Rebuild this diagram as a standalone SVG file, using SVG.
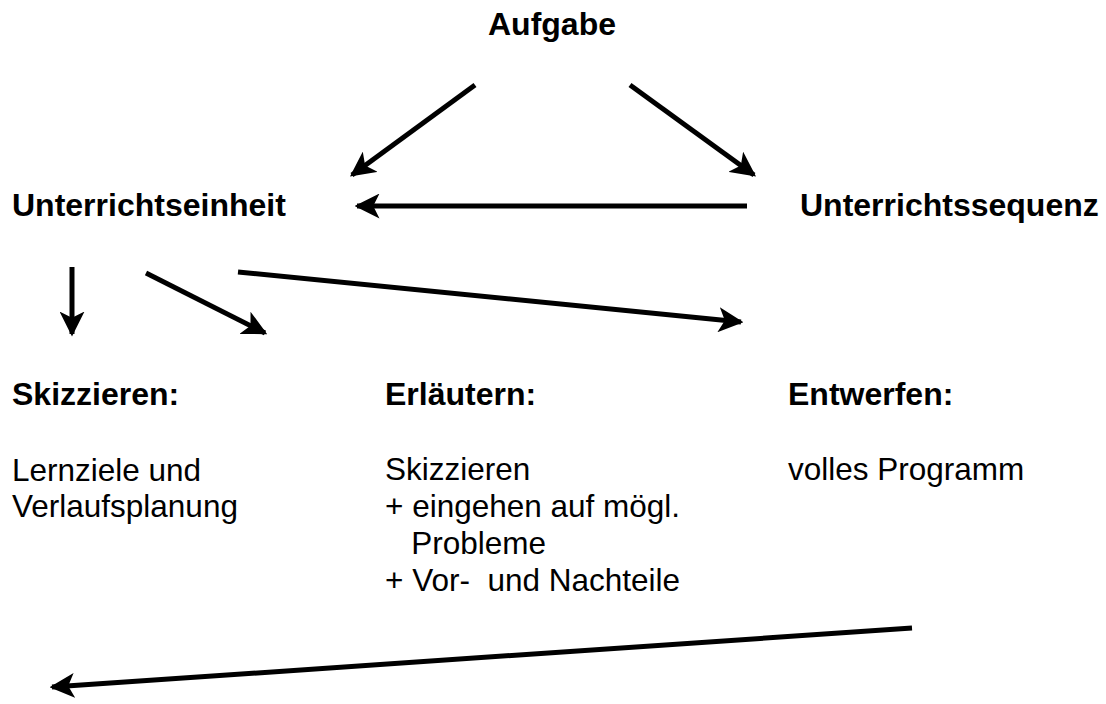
<svg xmlns="http://www.w3.org/2000/svg" width="1106" height="704" viewBox="0 0 1106 704">
<style>
text{font-family:"Liberation Sans",Arial,sans-serif;font-size:31.5px;fill:#000}
.b{font-weight:bold;font-size:32px}
.c line{stroke:#000;stroke-width:5;fill:none}
</style>
<defs>
<marker id="ah" viewBox="0 0 10 10" refX="9" refY="5" markerWidth="5" markerHeight="5" markerUnits="strokeWidth" orient="auto">
<path d="M0,0 L10,5 L0,10 L2.5,5 Z" fill="#000"/>
</marker>
</defs>
<rect width="1106" height="704" fill="#fff"/>
<g id="aufgabe"><text class="b" x="552" y="35" text-anchor="middle">Aufgabe</text></g>
<g id="einheit"><text class="b" x="12" y="216">Unterrichtseinheit</text></g>
<g id="sequenz"><text class="b" x="800" y="216">Unterrichtssequenz</text></g>
<g id="skizzieren"><text class="b" x="12" y="405">Skizzieren:</text>
<text x="12" y="481">Lernziele und</text><text x="12" y="517">Verlaufsplanung</text></g>
<g id="erlaeutern"><text class="b" x="385" y="405">Erläutern:</text>
<text x="385" y="480">Skizzieren</text><text x="385" y="517">+ eingehen auf mögl.</text>
<text x="385" y="554" xml:space="preserve">   Probleme</text><text x="385" y="591" xml:space="preserve">+ Vor-  und Nachteile</text></g>
<g id="entwerfen"><text class="b" x="788" y="405">Entwerfen:</text>
<text x="788" y="480">volles Programm</text></g>
<g class="c" id="connectors">
<line x1="475" y1="85" x2="352" y2="175" marker-end="url(#ah)"/>
<line x1="630" y1="85" x2="754" y2="175" marker-end="url(#ah)"/>
<line x1="747" y1="206" x2="357" y2="206" marker-end="url(#ah)"/>
<line x1="72" y1="267" x2="72" y2="334" marker-end="url(#ah)"/>
<line x1="146" y1="273" x2="265" y2="333" marker-end="url(#ah)"/>
<line x1="238" y1="272" x2="741" y2="322" marker-end="url(#ah)"/>
<line x1="912" y1="628" x2="52" y2="687" marker-end="url(#ah)"/>
</g>
</svg>
